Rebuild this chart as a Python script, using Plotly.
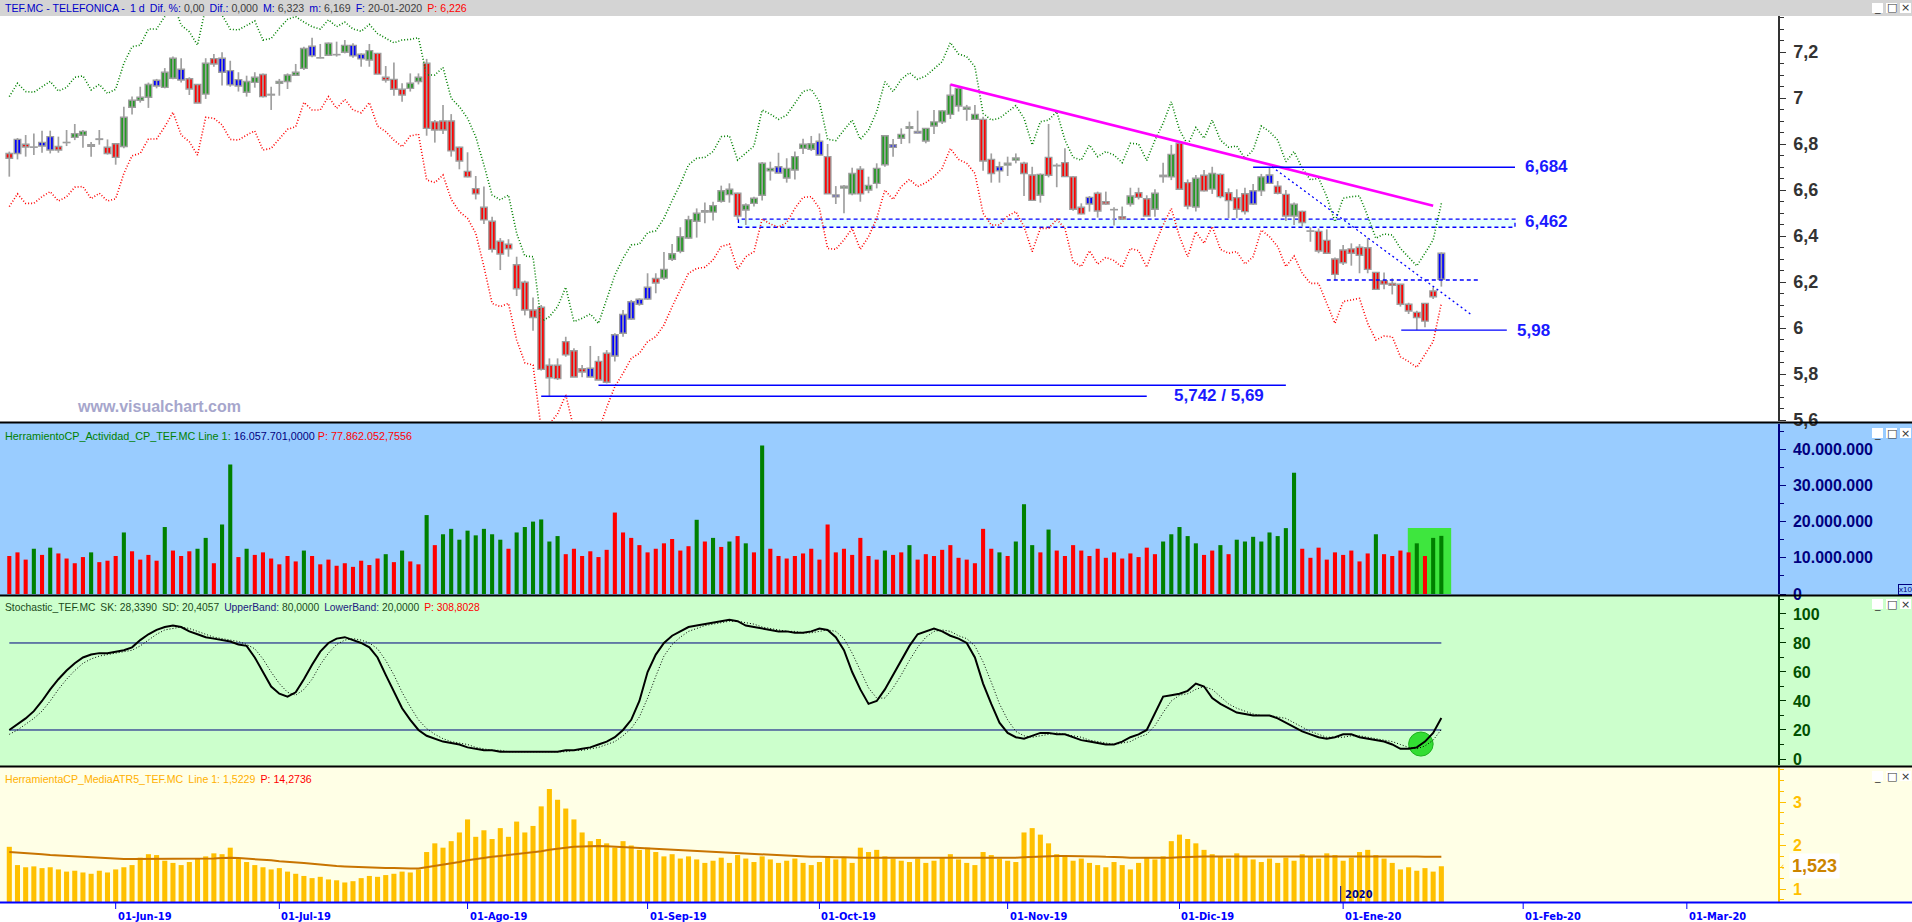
import pandas as pd
import plotly.graph_objects as go

# ---------------- data ----------------
FIRST_DAY = '2019-05-15'
LAST_AXIS_DAY = '2020-03-31'
HOLIDAYS = ['2019-12-25', '2019-12-26', '2020-01-01']
MONTHS = ['2019-06', '2019-07', '2019-08', '2019-09', '2019-10', '2019-11',
          '2019-12', '2020-01', '2020-02', '2020-03']
MONTH_LABELS = ['01-Jun-19', '01-Jul-19', '01-Ago-19', '01-Sep-19', '01-Oct-19',
                '01-Nov-19', '01-Dic-19', '01-Ene-20', '01-Feb-20', '01-Mar-20']

OPEN = [6.759, 6.759, 6.799, 6.786, 6.791, 6.774, 6.789, 6.806, 6.829, 6.838,
        6.797, 6.820, 6.786, 6.801, 6.789, 6.960, 6.990, 7.003, 7.052, 7.046,
        7.086, 7.078, 7.084, 7.059, 7.017, 7.171, 7.112, 7.057, 7.052, 7.025,
        7.068, 7.102, 7.016, 7.064, 7.072, 7.099, 7.129, 7.183, 7.175, 7.186,
        7.188, 7.199, 7.183, 7.170, 7.165, 7.194, 7.090, 7.081, 7.038, 7.042,
        7.072, 7.151, 6.896, 6.900, 6.900, 6.786, 6.681, 6.606, 6.525, 6.464,
        6.377, 6.364, 6.275, 6.199, 6.078, 6.090, 5.838, 5.838, 5.941, 5.901,
        5.823, 5.787, 5.855, 5.890, 5.878, 5.977, 6.039, 6.103, 6.126, 6.215,
        6.217, 6.299, 6.333, 6.391, 6.464, 6.504, 6.504, 6.551, 6.580, 6.586,
        6.513, 6.542, 6.577, 6.683, 6.674, 6.652, 6.687, 6.781, 6.777, 6.752,
        6.745, 6.570, 6.609, 6.583, 6.690, 6.600, 6.629, 6.710, 6.786, 6.825,
        6.868, 6.848, 6.813, 6.878, 6.896, 6.929, 6.965, 6.951, 6.907, 6.907,
        6.733, 6.683, 6.709, 6.730, 6.716, 6.665, 6.577, 6.742, 6.707, 6.719,
        6.657, 6.525, 6.539, 6.586, 6.549, 6.515, 6.484, 6.539, 6.588, 6.562,
        6.516, 6.658, 6.657, 6.803, 6.632, 6.526, 6.664, 6.604, 6.668, 6.588,
        6.567, 6.584, 6.539, 6.596, 6.629, 6.617, 6.581, 6.487, 6.507, 6.422,
        6.420, 6.381, 6.300, 6.339, 6.344, 6.351, 6.349, 6.242, 6.206, 6.194,
        6.190, 6.103, 6.068, 6.107, 6.161, 6.212]
HIGH = [6.767, 6.826, 6.839, 6.846, 6.858, 6.858, 6.832, 6.861, 6.887, 6.861,
        6.809, 6.861, 6.820, 6.803, 6.962, 7.006, 7.049, 7.067, 7.083, 7.130,
        7.180, 7.173, 7.090, 7.061, 7.173, 7.191, 7.199, 7.162, 7.112, 7.097,
        7.112, 7.107, 7.049, 7.083, 7.107, 7.148, 7.223, 7.262, 7.235, 7.241,
        7.245, 7.252, 7.238, 7.194, 7.235, 7.196, 7.139, 7.154, 7.064, 7.107,
        7.107, 7.170, 6.904, 6.970, 6.930, 6.788, 6.764, 6.661, 6.615, 6.484,
        6.391, 6.386, 6.310, 6.206, 6.133, 6.100, 5.868, 5.868, 5.962, 5.912,
        5.839, 5.922, 5.878, 5.904, 5.977, 6.078, 6.122, 6.129, 6.238, 6.238,
        6.330, 6.365, 6.438, 6.488, 6.520, 6.546, 6.549, 6.619, 6.629, 6.588,
        6.542, 6.571, 6.722, 6.723, 6.762, 6.738, 6.767, 6.823, 6.835, 6.846,
        6.800, 6.617, 6.622, 6.697, 6.704, 6.658, 6.716, 6.839, 6.822, 6.868,
        6.897, 6.945, 6.868, 6.948, 6.948, 7.059, 7.049, 6.970, 6.970, 6.919,
        6.759, 6.723, 6.745, 6.759, 6.723, 6.701, 6.672, 6.887, 6.716, 6.781,
        6.661, 6.542, 6.574, 6.593, 6.593, 6.525, 6.528, 6.610, 6.610, 6.577,
        6.603, 6.719, 6.796, 6.809, 6.646, 6.665, 6.687, 6.701, 6.672, 6.607,
        6.603, 6.610, 6.626, 6.670, 6.697, 6.639, 6.600, 6.546, 6.510, 6.438,
        6.433, 6.429, 6.307, 6.361, 6.368, 6.365, 6.390, 6.242, 6.241, 6.216,
        6.190, 6.110, 6.075, 6.107, 6.177, 6.329]
LOW = [6.658, 6.733, 6.745, 6.752, 6.762, 6.759, 6.762, 6.791, 6.817, 6.784,
       6.745, 6.797, 6.754, 6.710, 6.781, 6.928, 6.980, 6.957, 7.042, 7.042,
       7.081, 7.067, 7.013, 6.978, 6.996, 7.136, 7.054, 7.049, 7.028, 7.006,
       7.045, 7.002, 6.948, 7.010, 7.039, 7.096, 7.122, 7.177, 7.173, 7.183,
       7.180, 7.194, 7.175, 7.136, 7.136, 7.104, 7.067, 7.010, 6.984, 7.028,
       7.059, 6.836, 6.806, 6.844, 6.745, 6.690, 6.655, 6.559, 6.452, 6.328,
       6.252, 6.310, 6.139, 6.055, 5.988, 5.815, 5.704, 5.774, 5.875, 5.787,
       5.786, 5.786, 5.773, 5.759, 5.854, 5.962, 6.035, 6.097, 6.122, 6.151,
       6.209, 6.291, 6.325, 6.387, 6.393, 6.455, 6.467, 6.545, 6.545, 6.470,
       6.448, 6.528, 6.554, 6.641, 6.672, 6.632, 6.646, 6.757, 6.770, 6.752,
       6.583, 6.539, 6.499, 6.577, 6.549, 6.586, 6.607, 6.701, 6.745, 6.800,
       6.803, 6.846, 6.803, 6.844, 6.887, 6.909, 6.941, 6.901, 6.904, 6.684,
       6.632, 6.632, 6.661, 6.716, 6.574, 6.555, 6.545, 6.655, 6.612, 6.658,
       6.510, 6.494, 6.506, 6.480, 6.535, 6.446, 6.470, 6.528, 6.559, 6.487,
       6.484, 6.632, 6.643, 6.603, 6.516, 6.506, 6.593, 6.583, 6.564, 6.477,
       6.477, 6.494, 6.535, 6.574, 6.626, 6.581, 6.465, 6.448, 6.441, 6.375,
       6.325, 6.325, 6.209, 6.274, 6.271, 6.238, 6.238, 6.165, 6.168, 6.146,
       6.093, 6.061, 5.991, 6.003, 6.126, 6.180]
CLOSE = [6.738, 6.820, 6.787, 6.787, 6.807, 6.832, 6.774, 6.807, 6.845, 6.855,
         6.790, 6.822, 6.759, 6.742, 6.916, 6.990, 7.003, 7.059, 7.077, 7.112,
         7.173, 7.125, 7.039, 6.978, 7.151, 7.148, 7.173, 7.119, 7.080, 7.072,
         7.090, 7.006, 7.013, 7.072, 7.100, 7.112, 7.215, 7.225, 7.174, 7.238,
         7.189, 7.229, 7.229, 7.190, 7.206, 7.104, 7.078, 7.038, 7.013, 7.064,
         7.090, 6.868, 6.861, 6.861, 6.770, 6.726, 6.657, 6.583, 6.470, 6.342,
         6.322, 6.344, 6.171, 6.078, 6.046, 5.820, 5.784, 5.780, 5.883, 5.787,
         5.809, 5.825, 5.774, 5.764, 5.971, 6.059, 6.114, 6.125, 6.177, 6.196,
         6.255, 6.323, 6.397, 6.471, 6.499, 6.510, 6.532, 6.597, 6.603, 6.487,
         6.535, 6.564, 6.716, 6.694, 6.701, 6.694, 6.745, 6.799, 6.801, 6.812,
         6.583, 6.578, 6.616, 6.672, 6.583, 6.620, 6.694, 6.836, 6.797, 6.842,
         6.875, 6.855, 6.868, 6.896, 6.944, 7.012, 7.042, 6.960, 6.929, 6.726,
         6.672, 6.701, 6.716, 6.739, 6.672, 6.555, 6.668, 6.664, 6.705, 6.658,
         6.516, 6.496, 6.568, 6.509, 6.539, 6.514, 6.474, 6.574, 6.568, 6.487,
         6.586, 6.664, 6.755, 6.603, 6.530, 6.651, 6.596, 6.672, 6.571, 6.554,
         6.516, 6.506, 6.597, 6.657, 6.665, 6.586, 6.487, 6.538, 6.459, 6.421,
         6.335, 6.325, 6.233, 6.284, 6.325, 6.316, 6.255, 6.168, 6.191, 6.186,
         6.103, 6.074, 6.046, 6.030, 6.136, 6.325]
# g = green body, r = red body, b = blue body, d = doji (grey)
CANDLE_KIND = ("rbrbbbrbgg" "rbrrggggbg" "gbrrgrbbbg" "grdggggbdg" "ggbbgrrrrg"
               "grrrrrrrrr" "rrrrrrrrrr" "rbrrbbbbbr" "gggggggggr" "ggggbggggb"
               "rbggrgggbg" "gbgggggggr" "rbggrrgrdr" "rrbrrdrgrr" "gggrrgrgrr"
               "rrbgbrrgrd" "rrrrrrrrrr" "rrrrrb")
UPPER_BAND = [7.006, 7.064, 7.028, 7.025, 7.049, 7.072, 7.030, 7.046, 7.090, 7.096,
              7.035, 7.059, 7.020, 7.038, 7.151, 7.223, 7.230, 7.300, 7.300, 7.354,
              7.416, 7.317, 7.288, 7.230, 7.394, 7.390, 7.361, 7.299, 7.296, 7.317,
              7.335, 7.252, 7.259, 7.303, 7.342, 7.354, 7.330, 7.310, 7.300, 7.340,
              7.310, 7.330, 7.300, 7.290, 7.320, 7.280, 7.260, 7.240, 7.252, 7.255,
              7.262, 7.100, 7.100, 7.133, 6.999, 6.962, 6.912, 6.832, 6.709, 6.578,
              6.557, 6.578, 6.412, 6.313, 6.310, 6.028, 6.049, 6.093, 6.177, 6.028,
              6.042, 6.061, 6.020, 6.122, 6.230, 6.303, 6.361, 6.365, 6.414, 6.423,
              6.477, 6.554, 6.626, 6.709, 6.738, 6.742, 6.767, 6.832, 6.835, 6.730,
              6.759, 6.791, 6.948, 6.930, 6.907, 6.926, 6.977, 7.028, 7.038, 6.984,
              6.820, 6.815, 6.861, 6.904, 6.820, 6.861, 6.941, 7.071, 7.028, 7.081,
              7.110, 7.081, 7.096, 7.125, 7.158, 7.241, 7.191, 7.180, 7.136, 6.933,
              6.904, 6.912, 6.941, 6.967, 6.912, 6.796, 6.897, 6.904, 6.941, 6.817,
              6.742, 6.730, 6.796, 6.745, 6.767, 6.752, 6.719, 6.803, 6.800, 6.728,
              6.817, 6.890, 6.984, 6.861, 6.796, 6.872, 6.825, 6.904, 6.817, 6.786,
              6.791, 6.738, 6.774, 6.878, 6.854, 6.817, 6.723, 6.767, 6.694, 6.644,
              6.651, 6.571, 6.462, 6.564, 6.571, 6.574, 6.487, 6.390, 6.409, 6.404,
              6.346, 6.307, 6.270, 6.325, 6.383, 6.542]
LOWER_BAND = [6.528, 6.583, 6.542, 6.542, 6.571, 6.593, 6.552, 6.571, 6.612, 6.615,
              6.562, 6.586, 6.552, 6.562, 6.672, 6.749, 6.759, 6.822, 6.822, 6.875,
              6.938, 6.839, 6.810, 6.752, 6.916, 6.912, 6.883, 6.820, 6.817, 6.839,
              6.857, 6.774, 6.781, 6.825, 6.864, 6.875, 6.981, 6.948, 6.948, 7.006,
              6.955, 6.994, 6.948, 6.936, 6.980, 6.878, 6.854, 6.817, 6.788, 6.835,
              6.843, 6.644, 6.632, 6.665, 6.559, 6.506, 6.477, 6.412, 6.267, 6.107,
              6.093, 6.107, 5.948, 5.849, 5.839, 5.561, 5.583, 5.626, 5.710, 5.561,
              5.575, 5.594, 5.554, 5.655, 5.745, 5.803, 5.868, 5.890, 5.941, 5.962,
              6.013, 6.093, 6.165, 6.238, 6.259, 6.264, 6.296, 6.354, 6.365, 6.255,
              6.310, 6.332, 6.474, 6.452, 6.438, 6.458, 6.520, 6.568, 6.571, 6.520,
              6.346, 6.342, 6.383, 6.433, 6.342, 6.397, 6.477, 6.600, 6.559, 6.615,
              6.646, 6.615, 6.632, 6.658, 6.694, 6.781, 6.733, 6.716, 6.672, 6.499,
              6.448, 6.448, 6.487, 6.506, 6.441, 6.332, 6.433, 6.433, 6.472, 6.433,
              6.288, 6.267, 6.336, 6.278, 6.307, 6.293, 6.264, 6.346, 6.336, 6.264,
              6.361, 6.448, 6.520, 6.397, 6.310, 6.419, 6.368, 6.441, 6.342, 6.325,
              6.332, 6.278, 6.310, 6.426, 6.397, 6.354, 6.267, 6.313, 6.238, 6.194,
              6.194, 6.107, 6.020, 6.115, 6.122, 6.129, 6.020, 5.948, 5.965, 5.962,
              5.875, 5.854, 5.829, 5.883, 5.941, 6.107]

# volume in millions; colour g/r
VOLUME_M = [10.5, 11.5, 9.5, 12.5, 10.8, 12.8, 11.2, 9.8, 8.5, 10.2,
            11.5, 8.8, 9.2, 10.5, 17.0, 11.8, 9.5, 10.8, 9.2, 18.5,
            12.0, 10.5, 11.8, 12.5, 15.5, 8.5, 19.2, 35.8, 10.2, 12.5,
            10.8, 11.5, 9.8, 8.2, 10.5, 9.0, 12.0, 10.5, 8.2, 9.5,
            7.8, 8.5, 7.5, 9.2, 8.0, 9.8, 11.0, 8.8, 12.0, 9.0,
            8.2, 21.8, 13.5, 16.5, 18.0, 15.0, 17.5, 16.2, 18.0, 16.5,
            15.0, 12.5, 17.0, 18.5, 20.0, 20.6, 14.5, 16.0, 11.0, 12.5,
            10.5, 11.8, 10.2, 12.2, 22.5, 17.0, 15.5, 13.5, 11.5, 12.5,
            14.0, 15.2, 12.0, 13.2, 20.5, 14.5, 15.5, 13.0, 14.5, 16.0,
            14.0, 11.5, 41.0, 12.5, 10.5, 9.8, 10.5, 11.2, 12.5, 9.5,
            19.2, 11.5, 12.5, 10.8, 15.5, 10.5, 9.5, 12.0, 10.8, 11.5,
            13.5, 9.5, 11.0, 10.5, 12.2, 13.5, 10.0, 9.5, 8.5, 18.0,
            12.5, 11.5, 10.5, 14.5, 24.8, 13.5, 11.5, 17.8, 12.0, 10.5,
            13.5, 12.0, 10.5, 12.5, 10.0, 11.5, 9.8, 11.2, 10.2, 12.8,
            11.0, 14.5, 16.5, 18.5, 16.0, 14.0, 10.8, 12.0, 13.5, 11.0,
            15.0, 14.5, 15.8, 14.5, 17.0, 16.0, 18.2, 33.5, 12.5, 10.0,
            12.8, 9.5, 11.5, 10.8, 12.0, 9.0, 11.2, 16.5, 11.0, 10.5,
            12.0, 11.5, 14.0, 10.5, 15.5, 16.06]
VOLUME_KIND = ("rrrgrgrrrr" "grrrgrrrrg" "rrrggrggrg" "rrrrrrgrrr" "rrrrrrgrgr"
               "rgrggggggg" "grggggggrr" "rrrrrrrrrr" "rrrrgrgrgr" "grgrrrrrrr"
               "rrrrrrrgrr" "grrrrrrrrr" "rgrgggrgrr" "rrrrrrrrrr" "rgggggrrgr"
               "ggggggggrr" "rrrrrrrgrr" "rrgrgg")

STOCH_SK = [20, 24, 28, 33, 40, 48, 55, 61, 66, 70,
            72, 73, 73, 74, 75, 77, 82, 86, 89, 91,
            92, 91, 88, 86, 84, 83, 82, 81, 79, 78,
            70, 60, 50, 45, 43, 46, 55, 65, 74, 80,
            83, 84, 82, 80, 77, 70, 58, 46, 35, 27,
            20, 16, 14, 12, 11, 10, 8, 7, 6, 6,
            5, 5, 5, 5, 5, 5, 5, 5, 6, 6,
            7, 8, 10, 12, 15, 20, 27, 40, 60, 72,
            80, 85, 88, 91, 92, 93, 94, 95, 96, 95,
            92, 91, 90, 89, 88, 88, 87, 87, 88, 90,
            89, 84, 75, 60, 48, 38, 40, 48, 58, 68,
            78, 86, 88, 90, 88, 85, 83, 80, 70, 52,
            38, 25, 18, 15, 14, 16, 18, 18, 17, 17,
            15, 13, 12, 11, 10, 10, 12, 15, 17, 20,
            32, 43, 44, 45, 47, 52, 50, 42, 38, 35,
            32, 31, 30, 30, 30, 28, 25, 22, 19, 17,
            15, 14, 15, 17, 17, 15, 14, 13, 12, 10,
            7, 7, 8, 12, 18, 28.34]
STOCH_SD = [17, 20, 24, 28, 33, 40, 48, 55, 61, 66,
            69, 71, 72, 73, 74, 75, 78, 82, 86, 89,
            90, 91, 90, 88, 86, 84, 83, 82, 81, 79,
            76, 69, 60, 52, 46, 44, 48, 55, 65, 73,
            79, 82, 83, 82, 80, 76, 68, 58, 46, 36,
            27, 21, 17, 14, 12, 11, 10, 8, 7, 6,
            6, 5, 5, 5, 5, 5, 5, 5, 5, 6,
            6, 7, 8, 10, 12, 16, 21, 29, 42, 57,
            71, 79, 84, 88, 90, 92, 93, 94, 95, 95,
            94, 93, 91, 90, 89, 88, 88, 87, 87, 88,
            89, 88, 83, 73, 61, 49, 42, 42, 49, 58,
            68, 77, 84, 88, 89, 88, 85, 83, 78, 67,
            53, 38, 27, 19, 16, 15, 16, 17, 18, 17,
            16, 15, 13, 12, 11, 10, 11, 12, 15, 17,
            23, 32, 40, 44, 45, 48, 50, 48, 43, 38,
            35, 33, 31, 30, 30, 29, 28, 25, 22, 19,
            17, 15, 15, 15, 16, 16, 15, 14, 13, 12,
            10, 8, 7, 9, 13, 20.41]
STOCH_BANDS = [80, 20]

ATR = [1.97, 1.55, 1.5, 1.52, 1.48, 1.5, 1.45, 1.4, 1.42, 1.38,
       1.35, 1.42, 1.38, 1.45, 1.5, 1.55, 1.72, 1.8, 1.78, 1.65,
       1.6, 1.55, 1.62, 1.7, 1.75, 1.82, 1.8, 1.95, 1.7, 1.62,
       1.55, 1.5, 1.45, 1.48, 1.4, 1.35, 1.3, 1.25, 1.28, 1.22,
       1.2, 1.15, 1.18, 1.25, 1.3, 1.28, 1.32, 1.35, 1.4, 1.38,
       1.45, 1.85, 2.05, 1.95, 2.1, 2.3, 2.6, 2.2, 2.35, 2.15,
       2.4, 2.2, 2.55, 2.3, 2.45, 2.9, 3.3, 3.05, 2.85, 2.6,
       2.3, 2.1, 2.15, 2.05, 1.95, 2.1, 2.0, 1.9, 1.95, 1.85,
       1.75, 1.8, 1.7, 1.75, 1.68, 1.6, 1.65, 1.72, 1.6, 1.78,
       1.7, 1.62, 1.75, 1.68, 1.6, 1.65, 1.7, 1.6, 1.55, 1.62,
       1.75, 1.68, 1.72, 1.6, 1.95, 1.85, 1.9, 1.75, 1.7, 1.65,
       1.62, 1.7, 1.6, 1.65, 1.72, 1.8, 1.68, 1.6, 1.55, 1.85,
       1.78, 1.7, 1.65, 1.62, 2.3, 2.4, 2.25, 2.05, 1.8, 1.75,
       1.65, 1.7, 1.6, 1.55, 1.5, 1.62, 1.55, 1.45, 1.6, 1.72,
       1.68, 1.75, 2.1, 2.25, 2.15, 2.05, 1.9, 1.8, 1.75, 1.7,
       1.82, 1.75, 1.68, 1.62, 1.7, 1.6, 1.72, 1.65, 1.8, 1.75,
       1.7, 1.82, 1.78, 1.65, 1.72, 1.85, 1.9, 1.78, 1.7, 1.6,
       1.45, 1.5, 1.42, 1.48, 1.4, 1.5229]
ATR_AVG = [1.85, 1.84, 1.83, 1.82, 1.8, 1.78, 1.77, 1.76, 1.75, 1.74,
           1.72, 1.71, 1.7, 1.7, 1.69, 1.69, 1.69, 1.7, 1.7, 1.7,
           1.7, 1.69, 1.69, 1.69, 1.7, 1.7, 1.71, 1.72, 1.71, 1.7,
           1.68, 1.67, 1.66, 1.64, 1.63, 1.61, 1.6, 1.58, 1.56, 1.55,
           1.53, 1.52, 1.51, 1.5, 1.5, 1.49, 1.48, 1.48, 1.47, 1.47,
           1.47, 1.5, 1.52, 1.55, 1.58, 1.62, 1.66, 1.69, 1.72, 1.74,
           1.76, 1.78, 1.8, 1.82, 1.84, 1.87, 1.9, 1.93, 1.95, 1.97,
           1.98, 1.99, 1.99, 1.98, 1.97, 1.96, 1.95, 1.94, 1.93, 1.92,
           1.91, 1.9, 1.89, 1.88, 1.87, 1.86, 1.85, 1.84, 1.83, 1.82,
           1.81, 1.8, 1.79, 1.78, 1.77, 1.76, 1.75, 1.75, 1.74, 1.74,
           1.73, 1.73, 1.73, 1.72, 1.72, 1.72, 1.72, 1.72, 1.72, 1.72,
           1.72, 1.72, 1.72, 1.72, 1.72, 1.72, 1.72, 1.71, 1.71, 1.71,
           1.72, 1.72, 1.72, 1.72, 1.73, 1.74, 1.75, 1.76, 1.76, 1.76,
           1.76, 1.76, 1.75, 1.75, 1.74, 1.74, 1.73, 1.72, 1.72, 1.71,
           1.71, 1.71, 1.72, 1.73, 1.74, 1.75, 1.75, 1.75, 1.75, 1.75,
           1.75, 1.75, 1.75, 1.75, 1.75, 1.75, 1.75, 1.75, 1.75, 1.75,
           1.75, 1.75, 1.75, 1.75, 1.75, 1.75, 1.76, 1.76, 1.76, 1.76,
           1.75, 1.75, 1.75, 1.74, 1.74, 1.74]

# drawn studies on the price panel: (index0, price0, index1, price1)
TRENDLINE = (115.0, 7.059, 174.0, 6.532)
DIAG_DOTTED = (154.3, 6.701, 178.7, 6.057)
RESIST_6684 = (152.0, 184.0, 6.699)
ZONE_6462 = (89.1, 184.0, 6.438, 6.473)
DASH_621 = (161.0, 179.7, 6.209)
SUPPORT_598 = (170.1, 183.0, 5.991)
SUPPORT_5742 = (72.0, 156.0, 5.751)
SUPPORT_569 = (65.0, 139.0, 5.703)

for arr in (OPEN, HIGH, LOW, CLOSE, UPPER_BAND, LOWER_BAND, VOLUME_M, STOCH_SK,
            STOCH_SD, ATR, ATR_AVG):
    assert len(arr) == len(CLOSE), len(arr)
assert len(CANDLE_KIND) == len(CLOSE) and len(VOLUME_KIND) == len(CLOSE)

# ---------------- geometry helpers ----------------
W, H = 1912, 922
XR = 1778


def PX(x):
    return x / W


def PY(y):
    return 1 - y / H


N = len(CLOSE)
K = list(range(N))
XRANGE = [-1.1365, 216.14]

dates = pd.bdate_range(FIRST_DAY, LAST_AXIS_DAY)
dates = dates[~dates.isin(pd.to_datetime(HOLIDAYS))]
pos = pd.Series(range(len(dates)), index=dates)
firsts = pos.groupby(dates.to_period('M')).min()
month_idx = [int(firsts[pd.Period(m, 'M')]) for m in MONTHS]
jan_idx = int(firsts[pd.Period('2020-01', 'M')])

KIND_COL = {'g': '#229a22', 'r': '#ff0000', 'b': '#0000ff', 'd': '#a0a0a0'}
VOL_COL = {'g': '#008000', 'r': '#ff0000'}

fig = go.Figure()

# ---- price panel ----
fig.add_trace(go.Scatter(x=K, y=UPPER_BAND, mode='lines', xaxis='x', yaxis='y',
                         line=dict(color='#008000', width=1.6, dash='1px,2px')))
fig.add_trace(go.Scatter(x=K, y=LOWER_BAND, mode='lines', xaxis='x', yaxis='y',
                         line=dict(color='#ff0000', width=1.6, dash='1px,2px')))
wx, wy = [], []
for i in K:
    wx += [i, i, None]
    wy += [LOW[i], HIGH[i], None]
fig.add_trace(go.Scatter(x=wx, y=wy, mode='lines', xaxis='x', yaxis='y',
                         line=dict(color='#a0a0a0', width=1.7)))
body_base = [min(o, c) for o, c in zip(OPEN, CLOSE)]
body_h = [abs(c - o) for o, c in zip(OPEN, CLOSE)]
fig.add_trace(go.Bar(x=K, y=body_h, base=body_base, width=0.8, xaxis='x', yaxis='y',
                     marker=dict(color=[KIND_COL[c] for c in CANDLE_KIND],
                                 line=dict(color='#9c9c9c', width=1.4))))

# ---- volume ----
fig.add_trace(go.Bar(x=K, y=[v * 1e6 for v in VOLUME_M], width=0.5, xaxis='x2', yaxis='y2',
                     marker=dict(color=[VOL_COL[c] for c in VOLUME_KIND], line=dict(width=0))))

# ---- stochastic ----
for lvl in STOCH_BANDS:
    fig.add_trace(go.Scatter(x=[0, N - 1], y=[lvl, lvl], mode='lines', xaxis='x3', yaxis='y3',
                             line=dict(color='#000080', width=1)))
fig.add_trace(go.Scatter(x=K, y=STOCH_SD, mode='lines', xaxis='x3', yaxis='y3',
                         line=dict(color='#000000', width=1, dash='1px,2px')))
fig.add_trace(go.Scatter(x=K, y=STOCH_SK, mode='lines', xaxis='x3', yaxis='y3',
                         line=dict(color='#000000', width=2)))

# ---- ATR ----
fig.add_trace(go.Bar(x=K, y=ATR, width=0.62, xaxis='x4', yaxis='y4',
                     marker=dict(color='#ffc000', line=dict(width=0))))
fig.add_trace(go.Scatter(x=K, y=ATR_AVG, mode='lines', xaxis='x4', yaxis='y4',
                         line=dict(color='#c87400', width=2)))

shapes = []
# backgrounds
shapes.append(dict(type='rect', xref='paper', yref='paper', x0=0, x1=1, y0=PY(16), y1=1,
                   fillcolor='#d4d4d4', line=dict(width=0), layer='below'))
shapes.append(dict(type='rect', xref='paper', yref='paper', x0=0, x1=1, y0=PY(595), y1=PY(423),
                   fillcolor='#99ccff', line=dict(width=0), layer='below'))
shapes.append(dict(type='rect', xref='paper', yref='paper', x0=0, x1=1, y0=PY(766), y1=PY(595),
                   fillcolor='#ccffcc', line=dict(width=0), layer='below'))
shapes.append(dict(type='rect', xref='paper', yref='paper', x0=0, x1=1, y0=PY(902), y1=PY(766),
                   fillcolor='#ffffe6', line=dict(width=0), layer='below'))
for ysep in (422.5, 595.5, 766.5):
    shapes.append(dict(type='line', xref='paper', yref='paper', x0=0, x1=1, y0=PY(ysep), y1=PY(ysep),
                       line=dict(color='#000000', width=2)))
shapes.append(dict(type='line', xref='paper', yref='paper', x0=0, x1=1, y0=PY(902.5), y1=PY(902.5),
                   line=dict(color='#0000ff', width=2)))
# month ticks
for mi in month_idx:
    shapes.append(dict(type='line', xref='x4', yref='paper', x0=mi, x1=mi, y0=PY(903), y1=PY(909),
                       line=dict(color='#0000ff', width=1)))
shapes.append(dict(type='line', xref='x4', yref='paper', x0=jan_idx - 0.3, x1=jan_idx - 0.3,
                   y0=PY(886), y1=PY(902), line=dict(color='#0000a0', width=1)))

# price panel drawings
x0, x1, y0, y1 = ZONE_6462
shapes.append(dict(type='rect', xref='x', yref='y', x0=x0, x1=x1, y0=y0, y1=y1,
                   fillcolor='#e6ffff', line=dict(color='#0000ff', width=1.3, dash='4px,3px'),
                   layer='below'))
x0, y0, x1, y1 = TRENDLINE
shapes.append(dict(type='line', xref='x', yref='y', x0=x0, x1=x1, y0=y0, y1=y1,
                   line=dict(color='#ff00ff', width=2.6)))
x0, y0, x1, y1 = DIAG_DOTTED
shapes.append(dict(type='line', xref='x', yref='y', x0=x0, x1=x1, y0=y0, y1=y1,
                   line=dict(color='#0000ff', width=1.3, dash='2px,3px')))
for (a, b, lvl), dash in ((RESIST_6684, 'solid'), (DASH_621, '4px,3px'), (SUPPORT_598, 'solid'),
                          (SUPPORT_5742, 'solid'), (SUPPORT_569, 'solid')):
    shapes.append(dict(type='line', xref='x', yref='y', x0=a, x1=b, y0=lvl, y1=lvl,
                       line=dict(color='#0000ff', width=1.4, dash=dash)))

# volume highlight + stochastic circle
shapes.append(dict(type='rect', xref='x2', yref='y2', x0=170.9, x1=176.2, y0=0, y1=18.2e6,
                   fillcolor='#3ee63e', line=dict(width=0), layer='below'))
shapes.append(dict(type='circle', xref='x3', yref='y3', x0=171.0, x1=174.0, y0=2.0, y1=18.6,
                   fillcolor='#33dd33', line=dict(color='#1fb01f', width=1), layer='below'))

# window buttons
for ytop in (3, 428, 599, 771):
    for bx in (1872, 1886, 1900):
        shapes.append(dict(type='rect', xref='paper', yref='paper', x0=PX(bx), x1=PX(bx + 11),
                           y0=PY(ytop + 10), y1=PY(ytop), fillcolor='#ffffff', line=dict(width=0)))

annotations = []


def ann(x, y, text, size=11, color='#000', xanchor='left', family='Liberation Sans', **kw):
    d = dict(x=PX(x), y=PY(y), xref='paper', yref='paper', text=text, showarrow=False,
             xanchor=xanchor, yanchor='middle', font=dict(family=family, size=size, color=color))
    d.update(kw)
    annotations.append(d)


for ytop in (3, 428, 599, 771):
    for bx, glyph in ((1872, '_'), (1886, '□'), (1900, '×')):
        ann(bx + 5.5, ytop + 5, glyph, size=11, color='#333333', xanchor='center', family='DejaVu Sans')

B = '#0000c8'
D = '#404040'
S = '\u00a0'
G = '\u00a0\u2009'   # group gap


def sp(t, c):
    return f"<span style='color:{c}'>{t}</span>"


title = (sp('TEF.MC - TELEFONICA -' + G + '1 d' + G + 'Dif. %:', B) + S + sp('0,00', D) + G +
         sp('Dif.:', B) + S + sp('0,000', D) + G + sp('M:', B) + S + sp('6,323', D) + G +
         sp('m:', B) + S + sp('6,169', D) + G + sp('F:', B) + S + sp('20-01-2020', D) + G +
         sp('P:' + S + '6,226', '#ff0000'))
ann(3, 8, title, size=10.6)
ann(3, 436, sp('HerramientoCP_Actividad_CP_TEF.MC' + S + 'Line 1:', '#008000') + S +
    sp('16.057.701,0000', '#000080') + S + sp('P:' + S + '77.862.052,7556', '#ff0000'),
    size=10.8, family='Liberation Sans Narrow, Liberation Sans')
ann(3, 607, sp('Stochastic_TEF.MC' + G + 'SK:' + S + '28,3390' + G + 'SD:' + S + '20,4057', '#1a4a1a') + G +
    sp('UpperBand:', '#202080') + S + sp('80,0000', '#1a4a1a') + G + sp('LowerBand:', '#202080') + S +
    sp('20,0000', '#1a4a1a') + G + sp('P:' + S + '308,8028', '#ff0000'), size=10.3)
ann(3, 779, sp('HerramientaCP_MediaATR5_TEF.MC' + G + 'Line 1:' + S + '1,5229', '#ffb000') + G +
    sp('P:' + S + '14,2736', '#ff0000'), size=10.6)

# level labels
LBL = '#1a1aff'
ann(1523, 166.5, '<b>6,684</b>', size=17, color=LBL)
ann(1523, 221.5, '<b>6,462</b>', size=17, color=LBL)
ann(1515, 330, '<b>5,98</b>', size=17, color=LBL)
ann(1172, 396, '<b>5,742 / 5,69</b>', size=17, color=LBL)
ann(75, 407, '<b>www.visualchart.com</b>', size=16, color='#a6a6cc')

# month labels
for mi, lab in zip(month_idx, MONTH_LABELS):
    annotations.append(dict(x=mi, y=PY(916), xref='x4', yref='paper', text='<b>' + lab + '</b>',
                            showarrow=False, xanchor='left', yanchor='middle',
                            font=dict(family='DejaVu Sans Condensed', size=11, color='#0000ff')))
annotations.append(dict(x=jan_idx, y=PY(894), xref='x4', yref='paper', text='<b>2020</b>',
                        showarrow=False, xanchor='left', yanchor='middle',
                        font=dict(family='DejaVu Sans Condensed', size=11, color='#000080')))
# ATR last value tag
ann(1789, 866, '<b>' + '1,523' + '</b>', size=18, color='#cc8400', bgcolor='#ffffff', borderpad=2)
ann(1782, 866, '‹', size=10, color='#ffc000', xanchor='center')
ann(1905, 589, 'x10', size=8, color='#000080', xanchor='center', bordercolor='#000080',
    borderwidth=1, borderpad=0, bgcolor='#99ccff')


def yax(domain, rng, dtick, minor, color, lcolor, fmt=None, size=16, tick0=0):
    d = dict(domain=domain, range=rng, side='right', showline=True, linecolor=lcolor, linewidth=1.5,
             ticks='outside', ticklen=6, tickcolor=lcolor, tickmode='linear', tick0=tick0, dtick=dtick,
             minor=dict(ticks='outside', ticklen=4, tickcolor=lcolor, dtick=minor, tick0=tick0),
             showgrid=False, zeroline=False, ticklabelstandoff=4, fixedrange=True, automargin=False,
             tickfont=dict(family='Liberation Sans', size=size, color=color, weight='bold'))
    if fmt:
        d['tickformat'] = fmt
    return d


layout = dict(
    width=W, height=H, autosize=False, margin=dict(l=0, r=0, t=0, b=0, pad=0, autoexpand=False),
    paper_bgcolor='#ffffff', plot_bgcolor='rgba(0,0,0,0)', showlegend=False, hovermode=False,
    separators=',.', barmode='overlay', shapes=shapes, annotations=annotations,
    yaxis=yax([PY(421), PY(16)], [5.5957, 7.3565], 0.2, 0.05, '#333333', '#333333', size=18, tick0=5.6),
    yaxis2=yax([PY(594), PY(424)], [0, 46.96e6], 1e7, 5e6, '#000080', '#000080', fmt=',d'),
    yaxis3=yax([PY(765), PY(596)], [-4.14, 112.4], 20, 10, '#005000', '#003300'),
    yaxis4=yax([PY(902), PY(767)], [0.701, 3.805], 1, 0.25, '#ffc000', '#ffc000'),
)
for i, yn in enumerate(['y', 'y2', 'y3', 'y4'], start=1):
    layout['xaxis' if i == 1 else f'xaxis{i}'] = dict(domain=[0, PX(XR)], range=XRANGE, visible=False,
                                                      anchor=yn, fixedrange=True, automargin=False)
fig.update_layout(**layout)

fig.write_html("out.html", config={'displayModeBar': False},
               post_script="document.body.style.margin='0';document.body.style.overflow='hidden';")
